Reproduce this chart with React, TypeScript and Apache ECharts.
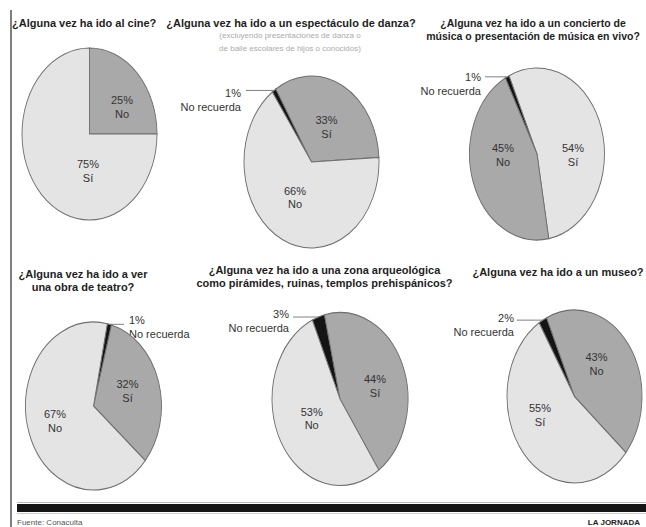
import React, { useEffect, useRef } from "react";
import * as echarts from "echarts";

// ---------- data ----------
const cineTitle = ["¿Alguna vez ha ido al cine?"];
const cineLabels = ["No", "Sí"];
const cineValues = [25, 75];

const danzaTitle = ["¿Alguna vez ha ido a un espectáculo de danza?"];
const danzaNote = ["(excluyendo presentaciones de danza o", "de baile escolares de hijos o conocidos)"];
const danzaLabels = ["No recuerda", "Sí", "No"];
const danzaValues = [1, 33, 66];

const musicaTitle = ["¿Alguna vez ha ido a un concierto de", "música o presentación de música en vivo?"];
const musicaLabels = ["No recuerda", "Sí", "No"];
const musicaValues = [1, 54, 45];

const teatroTitle = ["¿Alguna vez ha ido a ver", "una obra de teatro?"];
const teatroLabels = ["No recuerda", "Sí", "No"];
const teatroValues = [1, 32, 67];

const zonaTitle = ["¿Alguna vez ha ido a una zona arqueológica", "como pirámides, ruinas, templos prehispánicos?"];
const zonaLabels = ["No recuerda", "Sí", "No"];
const zonaValues = [3, 44, 53];

const museoTitle = ["¿Alguna vez ha ido a un museo?"];
const museoLabels = ["No recuerda", "No", "Sí"];
const museoValues = [2, 43, 55];

const sourceText = "Fuente: Conaculta";
const creditText = "LA JORNADA";

// ---------- layout & style ----------
const FONT = '"Liberation Sans", Arial, Helvetica, sans-serif';
const COLORS: Record<string, string> = { dark: "#a9a9a9", light: "#e4e4e4", black: "#141414" };
const TITLE_LH = 13;

type Leader = { dx: number; align: "left" | "right" };
type PieCfg = {
  title: string[];
  labels: string[];
  values: number[];
  cx: number; cy: number; rx: number; ry: number;
  start: number;
  tones: string[];
  offsets: [number, number][];
  leader?: Leader;
  titleX: number; titleY: number; titleAlign: "left" | "center"; titleSize: number;
};

const pies: PieCfg[] = [
  {
    title: cineTitle, labels: cineLabels, values: cineValues,
    cx: 89.5, cy: 134, rx: 67.5, ry: 86, start: 90,
    tones: ["dark", "light"],
    offsets: [[32.5, -27], [-1.5, 37]],
    titleX: 12, titleY: 23, titleAlign: "left", titleSize: 11,
  },
  {
    title: danzaTitle, labels: danzaLabels, values: danzaValues,
    cx: 311.5, cy: 162, rx: 67.5, ry: 86, start: 125.5,
    tones: ["black", "dark", "light"],
    offsets: [[-70.5, -62.5], [15, -35], [-16.5, 35.5]],
    leader: { dx: -65.5, align: "right" },
    titleX: 291, titleY: 23, titleAlign: "center", titleSize: 11,
  },
  {
    title: musicaTitle, labels: musicaLabels, values: musicaValues,
    cx: 537, cy: 154, rx: 67.5, ry: 86, start: 118,
    tones: ["black", "light", "dark"],
    offsets: [[-56, -70], [36, 1], [-34, 1]],
    leader: { dx: -52, align: "right" },
    titleX: 533, titleY: 23, titleAlign: "center", titleSize: 10.5,
  },
  {
    title: teatroTitle, labels: teatroLabels, values: teatroValues,
    cx: 93.5, cy: 406, rx: 68, ry: 84, start: 78.3,
    tones: ["black", "dark", "light"],
    offsets: [[35.5, -79], [34, -15], [-38.5, 15]],
    leader: { dx: 30.5, align: "left" },
    titleX: 83, titleY: 274, titleAlign: "center", titleSize: 11,
  },
  {
    title: zonaTitle, labels: zonaLabels, values: zonaValues,
    cx: 340, cy: 399, rx: 68, ry: 86.5, start: 114,
    tones: ["black", "dark", "light"],
    offsets: [[-51, -78.5], [35, -13], [-28.3, 19.3]],
    leader: { dx: -47, align: "right" },
    titleX: 324.5, titleY: 270, titleAlign: "center", titleSize: 11,
  },
  {
    title: museoTitle, labels: museoLabels, values: museoValues,
    cx: 574.5, cy: 396.5, rx: 67.5, ry: 86.5, start: 121.6,
    tones: ["black", "dark", "light"],
    offsets: [[-60.5, -71.5], [22, -32.5], [-34.5, 18.5]],
    leader: { dx: -57.8, align: "right" },
    titleX: 558, titleY: 272, titleAlign: "center", titleSize: 11,
  },
];

const RAD = Math.PI / 180;

function makeRender(p: PieCfg) {
  const total = p.values.reduce((a, b) => a + b, 0);
  return (params: any, api: any) => {
    const i = params.dataIndex;
    let before = 0;
    for (let k = 0; k < i; k++) before += p.values[k];
    const v = api.value(0);
    const a0 = p.start - (before / total) * 360;
    const a1 = a0 - (v / total) * 360;
    const tone = p.tones[i];
    const children: any[] = [
      {
        type: "sector",
        x: p.cx,
        y: p.cy,
        scaleY: p.ry / p.rx,
        shape: { cx: 0, cy: 0, r0: 0, r: p.rx, startAngle: -a0 * RAD, endAngle: -a1 * RAD, clockwise: true },
        style: { fill: COLORS[tone], stroke: "#6e6e6e", lineWidth: 0.9 },
      },
    ];
    const [dx, dy] = p.offsets[i];
    const text = `${v}%\n${p.labels[i]}`;
    if (tone === "black" && p.leader) {
      const mid = ((a0 + a1) / 2) * RAD;
      const ex = p.cx + p.rx * Math.cos(mid);
      const ey = p.cy - p.ry * Math.sin(mid);
      children.push({
        type: "line",
        shape: { x1: p.cx + p.leader.dx, y1: ey, x2: ex, y2: ey },
        style: { stroke: "#808080", lineWidth: 1 },
      });
      children.push({
        type: "text",
        x: p.cx + dx,
        y: p.cy + dy,
        style: {
          text, fill: "#333", fontSize: 11, fontFamily: FONT, lineHeight: 14,
          align: p.leader.align, verticalAlign: "middle",
        },
      });
    } else {
      children.push({
        type: "text",
        x: p.cx + dx,
        y: p.cy + dy,
        style: {
          text, fill: "#333", fontSize: 11, fontFamily: FONT, lineHeight: 13.5,
          align: "center", verticalAlign: "middle",
        },
      });
    }
    return { type: "group", children };
  };
}

export default function App() {
  const ref = useRef<HTMLDivElement>(null);
  useEffect(() => {
    document.body.style.margin = "0";
    if (!ref.current) return;
    const chart = echarts.init(ref.current, null, { renderer: "svg" });

    const graphics: any[] = [];
    // left frame line
    graphics.push({ type: "line", shape: { x1: 11, y1: 10, x2: 11, y2: 527 }, style: { stroke: "#555", lineWidth: 1.5 } });
    // bottom black bar
    graphics.push({ type: "line", shape: { x1: 17, y1: 502.5, x2: 646, y2: 502.5 }, style: { stroke: "#bbb", lineWidth: 1 } });
    graphics.push({ type: "rect", shape: { x: 17, y: 504, width: 629, height: 8 }, style: { fill: "#151515" } });
    graphics.push({ type: "line", shape: { x1: 17, y1: 513.5, x2: 646, y2: 513.5 }, style: { stroke: "#ccc", lineWidth: 1 } });
    // titles
    pies.forEach((p) => {
      graphics.push({
        type: "text",
        x: p.titleX,
        y: p.titleY + ((p.title.length - 1) * TITLE_LH) / 2,
        style: {
          text: p.title.join("\n"), fill: "#1e1e1e", fontSize: p.titleSize, fontWeight: "bold", fontFamily: FONT,
          lineHeight: TITLE_LH, align: p.titleAlign, verticalAlign: "middle",
        },
      });
    });
    graphics.push({
      type: "text", x: 290, y: 41.5,
      style: {
        text: danzaNote.join("\n"), fill: "#ababab", fontSize: 8, fontFamily: FONT, lineHeight: 13,
        align: "center", verticalAlign: "middle",
      },
    });
    graphics.push({
      type: "text", x: 17, y: 522.5,
      style: { text: sourceText, fill: "#555", fontSize: 8, fontFamily: FONT, align: "left", verticalAlign: "middle" },
    });
    graphics.push({
      type: "text", x: 640, y: 522.5,
      style: { text: creditText, fill: "#222", fontSize: 8, fontWeight: "bold", fontFamily: FONT, align: "right", verticalAlign: "middle" },
    });

    chart.setOption({
      animation: false,
      backgroundColor: "#ffffff",
      graphic: { elements: graphics },
      series: pies.map((p, idx) => ({
        type: "custom",
        name: `pie${idx}`,
        coordinateSystem: "none",
        silent: true,
        data: p.values.map((v, i) => ({ value: v, name: p.labels[i] })),
        renderItem: makeRender(p),
      })),
    });
    return () => chart.dispose();
  }, []);
  return <div ref={ref} style={{ width: 646, height: 527 }} />;
}
